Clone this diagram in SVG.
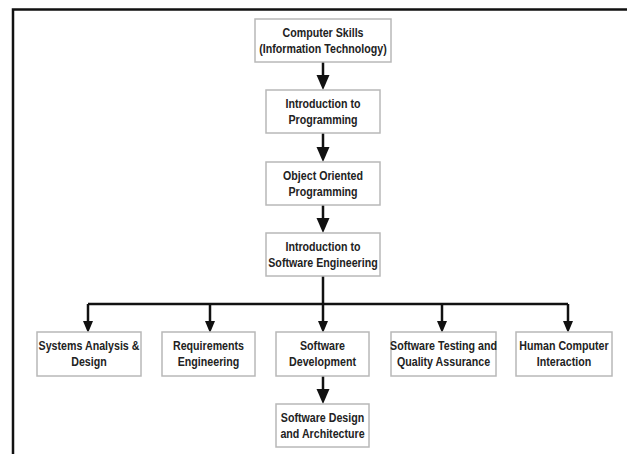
<svg xmlns="http://www.w3.org/2000/svg" width="627" height="454" viewBox="0 0 627 454">
<style>
.box{fill:#fff;stroke:#b8b8b8;stroke-width:1.5}
.lbl{font-family:"Liberation Sans",Arial,sans-serif;font-weight:bold;font-size:13px;fill:#222;text-anchor:middle;dominant-baseline:central}
.con{fill:none;stroke:#111;stroke-width:2.5}
.frame{fill:none;stroke:#111;stroke-width:2.5}
</style>
<defs>
<marker id="big" markerUnits="userSpaceOnUse" markerWidth="16" markerHeight="14" refX="2" refY="6.5" orient="auto"><path d="M0,0 L15,6.5 L0,13 z" fill="#111"/></marker>
<marker id="small" markerUnits="userSpaceOnUse" markerWidth="13" markerHeight="11" refX="2" refY="5" orient="auto"><path d="M0,0 L12,5 L0,10 z" fill="#111"/></marker>
</defs>
<rect width="627" height="454" fill="#fff"/>
<path class="frame" d="M13,454 L13,9.5 L627,9.5"/>
<g id="connectors">
<path class="con" d="M323,62 L323,77" marker-end="url(#big)"/>
<path class="con" d="M323,133 L323,149" marker-end="url(#big)"/>
<path class="con" d="M323,205 L323,220" marker-end="url(#big)"/>
<path class="con" d="M323,276 L323,304"/>
<path class="con" d="M88,304 L568,304"/>
<path class="con" d="M88,304 L88,323" marker-end="url(#small)"/>
<path class="con" d="M210,304 L210,323" marker-end="url(#small)"/>
<path class="con" d="M323,304 L323,323" marker-end="url(#small)"/>
<path class="con" d="M442,304 L442,323" marker-end="url(#small)"/>
<path class="con" d="M568,304 L568,323" marker-end="url(#small)"/>
<path class="con" d="M323,376 L323,391" marker-end="url(#big)"/>
</g>
<g id="n1"><rect class="box" x="255" y="19" width="136" height="43"/><text class="lbl" transform="translate(323 32.5) scale(0.82 1)">Computer Skills</text><text class="lbl" transform="translate(323 48.5) scale(0.82 1)">(Information Technology)</text></g>
<g id="n2"><rect class="box" x="266" y="90" width="114" height="43"/><text class="lbl" transform="translate(323 103.5) scale(0.82 1)">Introduction to</text><text class="lbl" transform="translate(323 119.5) scale(0.82 1)">Programming</text></g>
<g id="n3"><rect class="box" x="266" y="162" width="114" height="43"/><text class="lbl" transform="translate(323 175.5) scale(0.82 1)">Object Oriented</text><text class="lbl" transform="translate(323 191.5) scale(0.82 1)">Programming</text></g>
<g id="n4"><rect class="box" x="266" y="233" width="114" height="43"/><text class="lbl" transform="translate(323 246.5) scale(0.82 1)">Introduction to</text><text class="lbl" transform="translate(323 262.5) scale(0.82 1)">Software Engineering</text></g>
<g id="nA"><rect class="box" x="37" y="332" width="104" height="44"/><text class="lbl" transform="translate(89 346) scale(0.82 1)">Systems Analysis &amp;</text><text class="lbl" transform="translate(89 362) scale(0.82 1)">Design</text></g>
<g id="nB"><rect class="box" x="162" y="332" width="93" height="44"/><text class="lbl" transform="translate(208.5 346) scale(0.82 1)">Requirements</text><text class="lbl" transform="translate(208.5 362) scale(0.82 1)">Engineering</text></g>
<g id="nC"><rect class="box" x="276" y="332" width="93" height="44"/><text class="lbl" transform="translate(322.5 346) scale(0.82 1)">Software</text><text class="lbl" transform="translate(322.5 362) scale(0.82 1)">Development</text></g>
<g id="nD"><rect class="box" x="391" y="332" width="105" height="44"/><text class="lbl" transform="translate(443.5 346) scale(0.82 1)">Software Testing and</text><text class="lbl" transform="translate(443.5 362) scale(0.82 1)">Quality Assurance</text></g>
<g id="nE"><rect class="box" x="516" y="332" width="96" height="44"/><text class="lbl" transform="translate(564 346) scale(0.82 1)">Human Computer</text><text class="lbl" transform="translate(564 362) scale(0.82 1)">Interaction</text></g>
<g id="nF"><rect class="box" x="276" y="404" width="93" height="43"/><text class="lbl" transform="translate(322.5 417.5) scale(0.82 1)">Software Design</text><text class="lbl" transform="translate(322.5 433.5) scale(0.82 1)">and Architecture</text></g>
</svg>
